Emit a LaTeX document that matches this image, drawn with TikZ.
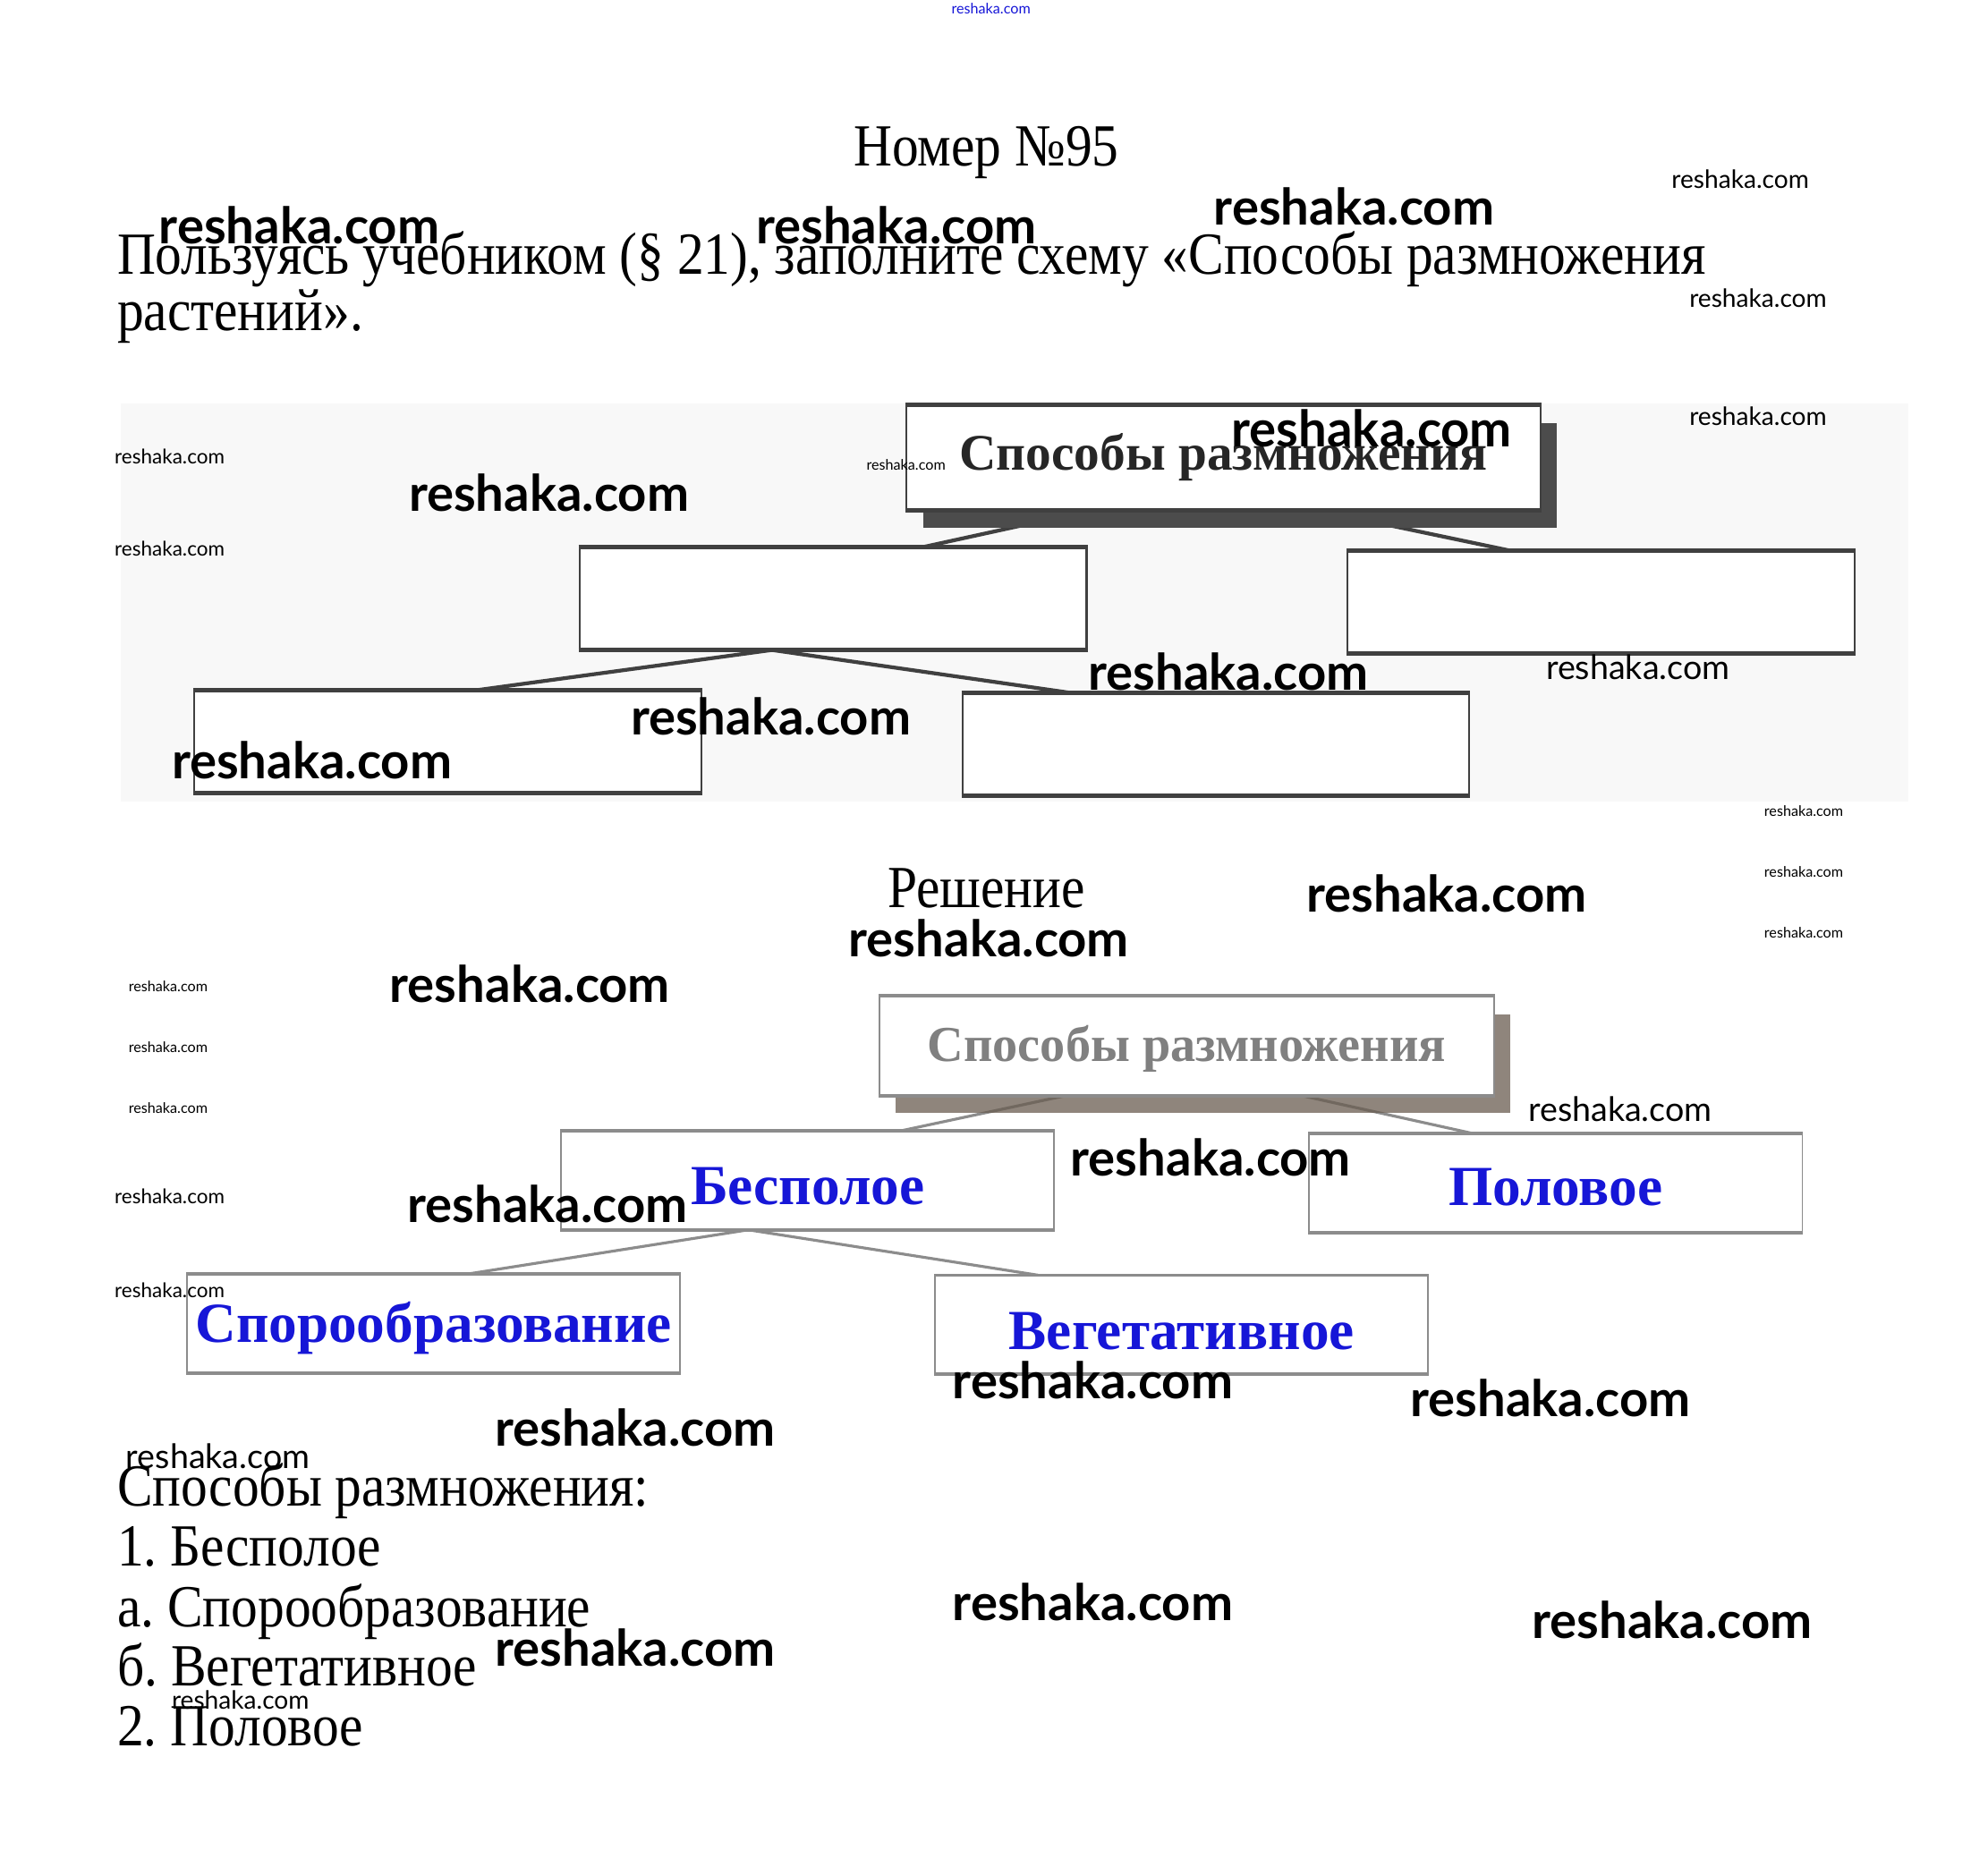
\documentclass[tikz,border=0pt]{standalone}
\usepackage{fontspec}
\setmainfont{Liberation Serif}[FakeStretch=0.89]
\newfontfamily\boxfont{Liberation Serif}
\newfontfamily\wmfont{Lato}
\usetikzlibrary{calc,positioning,shadows,backgrounds}
\definecolor{answerblue}{RGB}{22,22,215}
\definecolor{shadebrown}{RGB}{105,92,80}
\definecolor{paperbg}{RGB}{248,248,248}
\newlength\dpx
\setlength\dpx{0.1417mm}
\newcommand\lowered[2]{\raisebox{-#1}[\height][\depth]{#2}}

\begin{document}
\begin{tikzpicture}[x=0.1417mm, y=-0.1417mm,
    bodytext/.style={font=\frenchspacing\fontsize{19}{23}\selectfont, inner sep=0pt},
    schemebox/.style={draw=black!75, line width=0.6pt, fill=white, inner sep=0pt,
                      minimum width=400\dpx, minimum height=80\dpx},
    rootbox/.style={schemebox, minimum width=500\dpx, minimum height=82\dpx,
                    font=\boxfont\bfseries\fontsize{16.3}{20}\selectfont, text=black!85,
                    drop shadow={shadow xshift=13\dpx, shadow yshift=-14\dpx,
                                 fill=black!70, opacity=1}},
    answerbox/.style={schemebox, draw=black!45, line width=0.5pt,
                      minimum width=389\dpx, minimum height=77\dpx,
                      font=\boxfont\bfseries\fontsize{18}{21}\selectfont, text=answerblue},
    rootanswer/.style={answerbox, minimum width=485\dpx, minimum height=78\dpx,
                       font=\boxfont\bfseries\fontsize{16}{20}\selectfont, text=black!50,
                       drop shadow={shadow xshift=13\dpx, shadow yshift=-14\dpx,
                                    fill=shadebrown, opacity=.75}},
    rimline/.style={draw=black!75, line width=1.4pt},
    rimlight/.style={draw=black!45, line width=1.1pt},
    linkdark/.style={draw=black!75, line width=1.2pt},
    linklight/.style={draw=black!45, line width=0.9pt},
    wmbig/.style={anchor=west, inner sep=0pt, font=\wmfont\bfseries\fontsize{16}{16}\selectfont},
    wmmid/.style={anchor=west, inner sep=0pt, font=\wmfont\fontsize{10.7}{11}\selectfont},
    wmsmall/.style={anchor=west, inner sep=0pt, font=\wmfont\fontsize{8}{8}\selectfont},
    wmtiny/.style={anchor=west, inner sep=0pt, font=\wmfont\fontsize{6.4}{7}\selectfont},
    wmmini/.style={anchor=west, inner sep=0pt, font=\wmfont\fontsize{4.6}{5}\selectfont}
]
\useasboundingbox (0,0) rectangle (1568,1459);

% heading and task
\node[bodytext, anchor=base] (title) at (778,131) {Номер №95};
\node[bodytext, anchor=base west] (task1) at (92,216)
    {Пользуясь учебником (§ 21), заполните схему «Способы размножения};
\node[bodytext, anchor=base west] (task2) at (92,261) {растений».};

% empty scheme
\node[rootbox] (root1) at (965,361) {Способы размножения};
\node[schemebox] (asex1) at (657,472) {};
\node[schemebox] (sex1) at (1263,475) {};
\node[schemebox] (spore1) at (353,585) {};
\node[schemebox] (veg1) at (959,587) {};
\foreach \n in {root1,asex1,sex1,spore1,veg1}
    \draw[rimline] (\n.north west) -- (\n.north east) (\n.south west) -- (\n.south east);

% solution
\node[bodytext, anchor=base] (solution) at (778,716) {Решение};
\node[rootanswer] (root2) at (936,825) {\lowered{1pt}{Способы размножения}};
\node[answerbox] (asex2) at (637,931) {\lowered{2pt}{Бесполое}};
\node[answerbox] (sex2) at (1227,933) {\lowered{1.5pt}{Половое}};
\node[answerbox] (spore2) at (342,1044) {\lowered{1.5pt}{Спорообразование}};
\node[answerbox] (veg2) at (932,1045) {\lowered{2pt}{Вегетативное}};
\foreach \n in {root2,asex2,sex2,spore2,veg2}
    \draw[rimlight] (\n.north west) -- (\n.north east) (\n.south west) -- (\n.south east);

\begin{scope}[on background layer]
\fill[paperbg] (95,318) rectangle (1505,632);
\draw[linkdark] ($(root1.south west)!0.29!(root1.south east)$) -- ($(asex1.north west)!0.68!(asex1.north east)$);
\draw[linkdark] ($(root1.south west)!0.65!(root1.south east)$) -- ($(sex1.north west)!0.32!(sex1.north east)$);
\draw[linkdark] ($(asex1.south west)!0.38!(asex1.south east)$) -- ($(spore1.north west)!0.56!(spore1.north east)$);
\draw[linkdark] ($(asex1.south west)!0.38!(asex1.south east)$) -- ($(veg1.north west)!0.21!(veg1.north east)$);
\draw[linklight] ($(root2.south west)!0.30!(root2.south east)$) -- ($(asex2.north west)!0.69!(asex2.north east)$);
\draw[linklight] ($(root2.south west)!0.69!(root2.south east)$) -- ($(sex2.north west)!0.33!(sex2.north east)$);
\draw[linklight] ($(asex2.south west)!0.38!(asex2.south east)$) -- ($(spore2.north west)!0.57!(spore2.north east)$);
\draw[linklight] ($(asex2.south west)!0.38!(asex2.south east)$) -- ($(veg2.north west)!0.21!(veg2.north east)$);
\end{scope}

% answer list
\node[bodytext, anchor=base west] (list0) at (92,1188) {Способы размножения:};
\node[bodytext, anchor=base west] (list1) at (92,1235) {1. Бесполое};
\node[bodytext, anchor=base west] (list2) at (92,1283) {а. Спорообразование};
\node[bodytext, anchor=base west] (list3) at (92,1330) {б. Вегетативное};
\node[bodytext, anchor=base west] (list4) at (92,1377) {2. Половое};

% watermarks
\node[wmmini, text=answerblue] (wmtop) at (750,7) {reshaka.com};
\foreach \wx/\wy [count=\k] in {125/178,596/178,957/163,971/338,322/389,858/530,
    497/565,135/600,1030/705,669/740,307/776,844/913,321/950,751/1089,1112/1103,
    390/1126,751/1264,1208/1278,390/1300}
    \node[wmbig] (wmbig\k) at (\wx,\wy) {reshaka.com};
\foreach \wx/\wy [count=\k] in {1219/526,1205/875,99/1149}
    \node[wmmid] (wmmid\k) at (\wx,\wy) {reshaka.com};
\foreach \wx/\wy [count=\k] in {1318/141,1332/235,1332/328,135/1341}
    \node[wmsmall] (wmsmall\k) at (\wx,\wy) {reshaka.com};
\foreach \wx/\wy [count=\k] in {90/360,90/433,90/944,90/1018}
    \node[wmtiny] (wmtiny\k) at (\wx,\wy) {reshaka.com};
\foreach \wx/\wy [count=\k] in {101/778,101/826,101/874,1391/640,1391/688,1391/736,683/367}
    \node[wmmini] (wmmini\k) at (\wx,\wy) {reshaka.com};
\end{tikzpicture}
\end{document}
